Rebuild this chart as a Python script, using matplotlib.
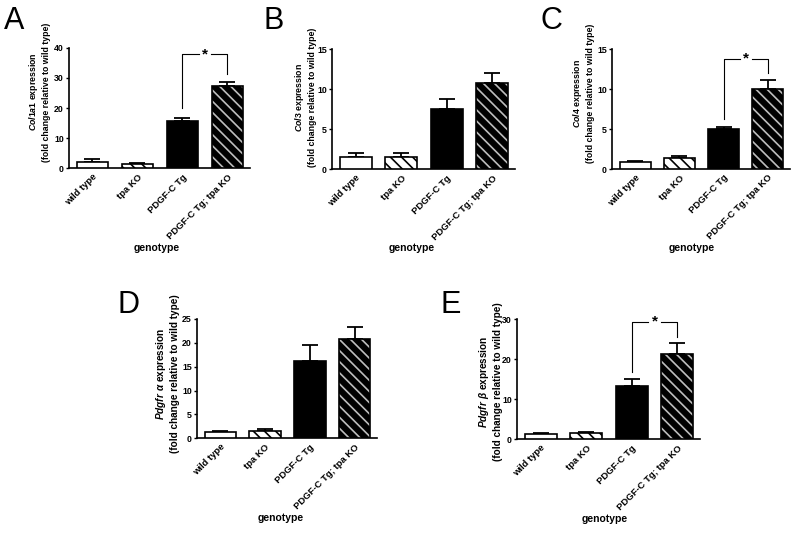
import matplotlib

matplotlib.use("Agg")
import matplotlib.pyplot as plt


GENOTYPES = ["wild type", "tpa KO", "PDGF-C Tg", "PDGF-C Tg; tpa KO"]

COL1A1_MEAN = [2.0, 1.4, 15.7, 27.3]
COL1A1_SEM = [1.1, 0.5, 1.1, 1.2]
COL3_MEAN = [1.5, 1.5, 7.5, 10.75]
COL3_SEM = [0.6, 0.5, 1.25, 1.35]
COL4_MEAN = [0.92, 1.34, 4.98, 10.04]
COL4_SEM = [0.13, 0.29, 0.25, 1.13]
PDGFRA_MEAN = [1.26, 1.6, 16.3, 20.74]
PDGFRA_SEM = [0.21, 0.36, 3.25, 2.5]
PDGFRB_MEAN = [1.25, 1.5, 13.2, 21.25]
PDGFRB_SEM = [0.25, 0.4, 1.8, 2.75]

# significance brackets: (left bar, right bar, left foot, right foot, top)
COL1A1_SIG = (2, 3, 19.9, 31.2, 37.9)
COL4_SIG = (2, 3, 6.3, 12.0, 13.8)
PDGFRB_SIG = (2, 3, 16.9, 25.5, 29.4)

W, H = 800, 533

# pixel layout: axes box (left, top, right, bottom), letter pos, ylabel centre, xlabel centre
PANELS = [
    dict(letter="A", gene=r"$\mathit{Col1a1}$", mean=COL1A1_MEAN, sem=COL1A1_SEM,
         ymax=40, step=10, sig=COL1A1_SIG, box=(69, 47.7, 250, 168.3),
         lpos=(4, 6), ylab=(39, 92), xlab=(157, 248), ylfs=6.3),
    dict(letter="B", gene=r"$\mathit{Col3}$", mean=COL3_MEAN, sem=COL3_SEM,
         ymax=15, step=5, sig=None, box=(332, 49.3, 515, 169.3),
         lpos=(264, 6), ylab=(305, 97), xlab=(412, 248), ylfs=6.3),
    dict(letter="C", gene=r"$\mathit{Col4}$", mean=COL4_MEAN, sem=COL4_SEM,
         ymax=15, step=5, sig=COL4_SIG, box=(612, 49.3, 790, 169),
         lpos=(541, 6), ylab=(583, 93), xlab=(692, 248), ylfs=6.3),
    dict(letter="D", gene=r"$\mathit{Pdgfr}\ \alpha$", mean=PDGFRA_MEAN, sem=PDGFRA_SEM,
         ymax=25, step=5, sig=None, box=(197, 319, 377, 438.3),
         lpos=(118, 290), ylab=(167, 374), xlab=(281, 518), ylfs=7.2),
    dict(letter="E", gene=r"$\mathit{Pdgfr}\ \beta$", mean=PDGFRB_MEAN, sem=PDGFRB_SEM,
         ymax=30, step=10, sig=PDGFRB_SIG, box=(517, 319.3, 700, 439.3),
         lpos=(440, 290), ylab=(490, 381.5), xlab=(605, 519), ylfs=7.2),
]

plt.rcParams["font.family"] = ["Liberation Sans", "DejaVu Sans"]
plt.rcParams["mathtext.fontset"] = "custom"
plt.rcParams["mathtext.it"] = "Liberation Sans:italic:bold"
plt.rcParams["mathtext.rm"] = "Liberation Sans:bold"
plt.rcParams["mathtext.bf"] = "Liberation Sans:bold"
plt.rcParams["hatch.linewidth"] = 1.2

HATCH = "\\\\\\"


def fx(px):
    return px / W


def fy(py):
    return 1 - py / H


def draw_bars(ax, mean, sem):
    xs = list(range(len(mean)))
    width = 0.7
    lw = 1.2
    ax.bar(xs[0], mean[0], width, color="white", edgecolor="black", linewidth=lw, zorder=3)
    ax.bar(xs[1], mean[1], width, color="white", edgecolor="black", hatch=HATCH,
           linewidth=lw, zorder=3)
    ax.bar(xs[2], mean[2], width, color="black", edgecolor="black", linewidth=lw, zorder=3)
    ax.bar(xs[3], mean[3], width, color="black", edgecolor="#bdbdbd", hatch=HATCH,
           linewidth=0, zorder=3)
    ax.bar(xs[3], mean[3], width, fill=False, edgecolor="black", linewidth=lw, zorder=3)
    ax.errorbar(xs, mean, yerr=[[0] * len(sem), sem], fmt="none", ecolor="black",
                elinewidth=1.3, capsize=6, capthick=1.3, zorder=2, clip_on=False)


def draw_sig(ax, sig):
    x1, x2, y1, y2, top = sig
    mid = (x1 + x2) / 2
    gap = 0.14
    kw = dict(color="black", linewidth=0.8, clip_on=False)
    ax.plot([x1, x1, mid - gap], [y1, top, top], **kw)
    ax.plot([mid + gap, x2, x2], [top, top, y2], **kw)
    ax.text(mid, top, "*", ha="center", va="center", fontsize=11, fontweight="bold")


fig = plt.figure(figsize=(8, 5.33), dpi=100)

for p in PANELS:
    left, top, right, bottom = p["box"]
    ax = fig.add_axes([fx(left), fy(bottom), fx(right - left), (bottom - top) / H])
    draw_bars(ax, p["mean"], p["sem"])
    if p["sig"]:
        draw_sig(ax, p["sig"])

    ax.set_xlim(-0.52, 3.5)
    ax.set_ylim(0, p["ymax"])
    ax.set_yticks(range(0, p["ymax"] + 1, p["step"]))
    ax.set_xticks(range(len(GENOTYPES)))
    ax.set_xticklabels(GENOTYPES, rotation=45, ha="right", rotation_mode="anchor",
                       fontsize=6.8, fontweight="bold")
    for lab in ax.get_yticklabels():
        lab.set_fontsize(6.3)
        lab.set_fontweight("bold")
    ax.tick_params(axis="y", length=2.5, width=1, pad=1.2)
    ax.tick_params(axis="x", length=0, pad=3)
    ax.spines["top"].set_visible(False)
    ax.spines["right"].set_visible(False)
    ax.spines["left"].set_linewidth(1.2)
    ax.spines["bottom"].set_linewidth(1.2)

    fig.text(fx(p["lpos"][0]), fy(p["lpos"][1]), p["letter"], ha="left", va="top",
             fontsize=22)
    fig.text(fx(p["ylab"][0]), fy(p["ylab"][1]),
             p["gene"] + " expression\n(fold change relative to wild type)",
             rotation=90, ha="center", va="center", multialignment="center",
             fontsize=p["ylfs"], fontweight="bold")
    fig.text(fx(p["xlab"][0]), fy(p["xlab"][1]), "genotype", ha="center", va="center",
             fontsize=7.5, fontweight="bold")

fig.savefig("out.png", dpi=100)
